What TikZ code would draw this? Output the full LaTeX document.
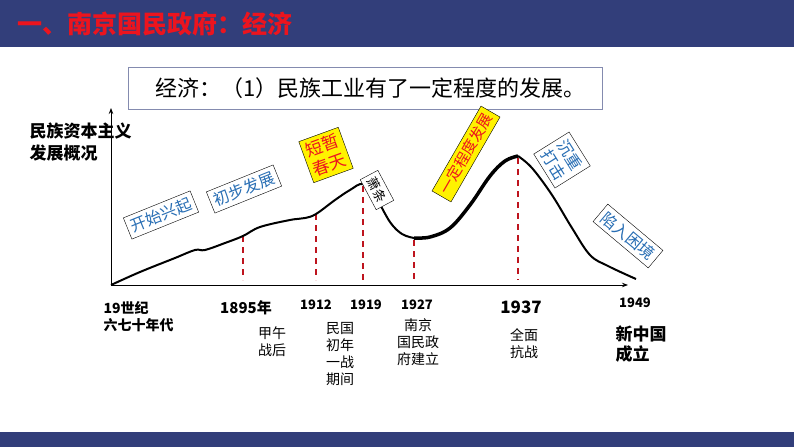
\documentclass[tikz,border=0pt]{standalone}
\usepackage{fontspec}
\setmainfont{Noto Sans CJK SC}
\usetikzlibrary{arrows.meta}
\definecolor{navy}{RGB}{50,62,122}
\definecolor{ttl}{RGB}{236,20,30}
\definecolor{lbl}{RGB}{40,110,180}
\definecolor{dred}{RGB}{190,20,30}
\tikzset{
 tag/.style={draw=black,fill=white,text=lbl,font=\fontsize{16}{19}\selectfont,inner sep=4pt,align=center},
 ytag/.style={draw=black,fill=yellow,text=ttl,font=\fontsize{17}{20}\selectfont,inner sep=4pt,align=center},
 guide/.style={dred,line width=2pt,dash pattern=on 6pt off 5pt},
 yr/.style={font=\bfseries\fontsize{13}{15}\selectfont},
 sub/.style={font=\fontsize{14}{17}\selectfont,align=center},
}
\begin{document}
\begin{tikzpicture}[x=1pt,y=-1pt]
\useasboundingbox (0,0) rectangle (794,447);
\fill[navy] (0,0) rectangle (794,47);
\fill[navy] (0,432) rectangle (794,447);
\node[anchor=west,text=ttl,font=\bfseries\fontsize{25}{28}\selectfont] (title) at (14,24) {一、南京国民政府：经济};
\node[draw=navy!60,minimum width=474pt,minimum height=42pt,font=\fontsize{22}{25}\selectfont,anchor=west,inner sep=0pt] (head) at (128,88) {\hspace{0.5em}经济：（1）民族工业有了一定程度的发展。\hfill};
\node[anchor=west,font=\bfseries\fontsize{17}{22}\selectfont,align=left] (ylab) at (26,142) {民族资本主义\\发展概况};
\coordinate (o) at (111,285);
\coordinate (yt) at (111,108);
\coordinate (xe) at (628,285);
\draw[-{Stealth[length=6pt]},line width=0.9pt] (o) -- (yt);
\draw[-{Stealth[length=6pt]},line width=0.9pt] (o) -- (xe);
\foreach \x/\y in {243/236,316/214,363/186,414/240,518/158}
  \draw[guide] (\x,\y) -- (\x,280);
\draw[line width=2pt,line join=round] plot[smooth,tension=0.6] coordinates {(111,285) (140,272) (175,258) (195,250) (205,250) (225,243) (243,236) (260,227) (290,220) (305,218) (316,214) (335,200) (350,190) (363,184) (375,196) (390,222) (402,234) (414,238)};
\draw[line width=3.5pt,line join=round] plot[smooth,tension=0.6] coordinates {(414,238) (430,237) (450,228) (470,205) (490,176) (505,161) (518,156)};
\draw[line width=2pt,line join=round] plot[smooth,tension=0.6] coordinates {(518,156) (532,168) (552,195) (572,228) (590,255) (608,266) (636,279)};
\node[tag,rotate=22] (t1) at (161,215) {开始兴起};
\node[tag,rotate=22] (t2) at (244,189) {初步发展};
\node[ytag,rotate=20] (t3) at (326,155) {短暂\\春天};
\node[draw=black,fill=white,font=\fontsize{13}{15}\selectfont,inner sep=4pt,rotate=-62] (t4) at (377,190) {萧条};
\node[ytag,rotate=60,font=\fontsize{15}{18}\selectfont] (t5) at (466,154) {一定程度发展};
\node[tag,rotate=-58] (t6) at (562,160) {沉重\\打击};
\node[tag,rotate=-40] (t7) at (628,236) {陷入困境};
\node[yr,anchor=north west,align=left,font=\bfseries\fontsize{14}{17}\selectfont] (y0) at (100,298) {19世纪\\六七十年代};
\node[yr,font=\bfseries\fontsize{15}{17}\selectfont] (y1) at (246,308) {1895年};
\node[yr] (y2) at (316,305) {1912};
\node[yr] (y3) at (366,305) {1919};
\node[yr] (y4) at (417,305) {1927};
\node[yr,font=\bfseries\fontsize{17}{19}\selectfont] (y5) at (521,307) {1937};
\node[yr] (y6) at (635,303) {1949};
\node[sub] (s1) at (272,342) {甲午\\战后};
\node[sub] (s2) at (340,354) {民国\\初年\\一战\\期间};
\node[sub] (s3) at (418,342) {南京\\国民政\\府建立};
\node[sub] (s4) at (524,344) {全面\\抗战};
\node[yr,font=\bfseries\fontsize{17}{20}\selectfont,align=left] (s5) at (641,344) {新中国\\成立};
\end{tikzpicture}
\end{document}
